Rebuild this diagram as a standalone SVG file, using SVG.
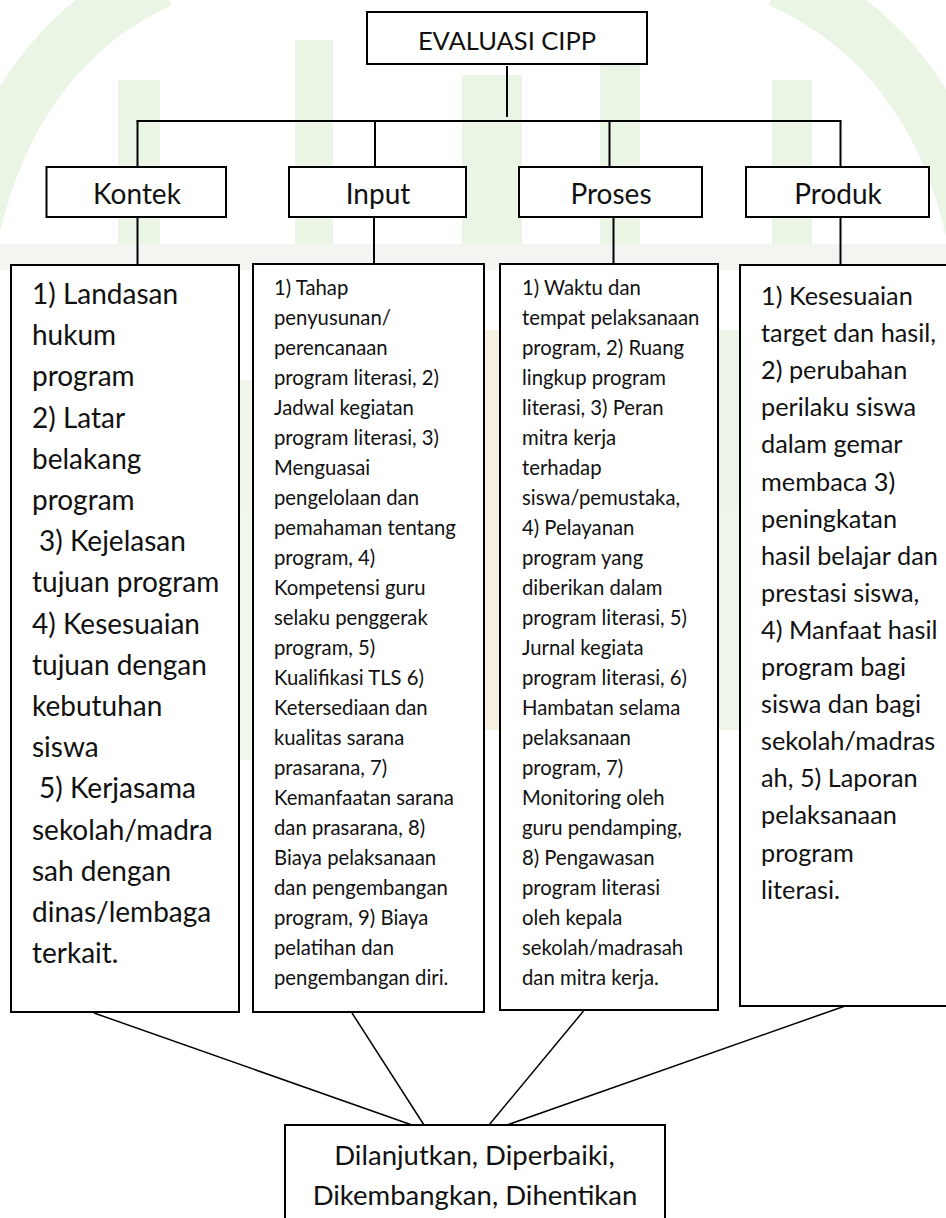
<svg xmlns="http://www.w3.org/2000/svg" width="946" height="1218" viewBox="0 0 946 1218">
<style>
  .box{fill:#fff;stroke:#000;stroke-width:2}
  .tree line{stroke:#000;stroke-width:2}
  .diag line{stroke:#000;stroke-width:1.5}
  text{font-family:Lato,"Liberation Sans",sans-serif;fill:#111}
  .h{font-size:28px;text-anchor:middle}
  .t{font-size:25.5px;text-anchor:middle}
  .b{font-size:27.5px;text-anchor:middle}
  .k{font-size:28px}
  .s{font-size:20.3px}
  .p{font-size:25.3px}
  .wm{fill:#e3f1dc}
</style>
<rect width="946" height="1218" fill="#fff"/>
<g id="watermark" opacity="0.7">
  <path d="M-30,240 Q10,50 160,-20" fill="none" stroke="#e3f1dc" stroke-width="55"/>
  <path d="M780,-20 Q935,50 975,240" fill="none" stroke="#e3f1dc" stroke-width="55"/>
  <rect class="wm" x="118" y="80" width="42" height="180"/>
  <rect class="wm" x="295" y="40" width="38" height="220"/>
  <rect class="wm" x="462" y="75" width="60" height="190"/>
  <rect class="wm" x="600" y="40" width="40" height="220"/>
  <rect class="wm" x="772" y="80" width="40" height="180"/>
  <rect x="0" y="244" width="946" height="26" fill="#eef2ec"/>
  <rect x="484" y="330" width="16" height="400" fill="#f5ecd6"/>
  <rect x="718" y="330" width="22" height="400" fill="#e6f2df"/>
  <rect x="239" y="380" width="14" height="380" fill="#eaf3e4"/>
</g>
<g id="connectors">
  <g class="tree">
    <line x1="507" y1="66" x2="507" y2="117"/>
    <line x1="136.5" y1="121" x2="841.5" y2="121"/>
    <line x1="137.5" y1="121" x2="137.5" y2="167"/>
    <line x1="375" y1="121" x2="375" y2="167"/>
    <line x1="609.5" y1="121" x2="609.5" y2="167"/>
    <line x1="840.5" y1="121" x2="840.5" y2="167"/>
    <line x1="137.5" y1="217" x2="137.5" y2="265"/>
    <line x1="374" y1="218" x2="374" y2="264"/>
    <line x1="613.5" y1="218" x2="613.5" y2="264"/>
    <line x1="840.5" y1="217" x2="840.5" y2="265"/>
  </g>
  <g class="diag">
    <line x1="94" y1="1013" x2="412" y2="1125"/>
    <line x1="352" y1="1013" x2="424" y2="1125"/>
    <line x1="583.5" y1="1011" x2="489" y2="1125"/>
    <line x1="845" y1="1006" x2="507" y2="1125"/>
  </g>
</g>
<g id="evaluasi">
  <rect class="box" x="367" y="12" width="280" height="52"/>
  <text class="t" x="507" y="50">EVALUASI CIPP</text>
</g>
<g id="kontek">
  <rect class="box" x="46.5" y="167" width="179.5" height="50"/>
  <text class="h" x="137" y="204">Kontek</text>
</g>
<g id="input">
  <rect class="box" x="289" y="167" width="177" height="50"/>
  <text class="h" x="378" y="204">Input</text>
</g>
<g id="proses">
  <rect class="box" x="519" y="167" width="183" height="50"/>
  <text class="h" x="611" y="204">Proses</text>
</g>
<g id="produk">
  <rect class="box" x="746" y="167" width="183" height="50"/>
  <text class="h" x="838" y="204">Produk</text>
</g>
<g id="kontek-detail">
  <rect class="box" x="11" y="265" width="228" height="747"/>
  <text class="k">
    <tspan x="32" y="304">1) Landasan</tspan>
    <tspan x="32" dy="41.2">hukum</tspan>
    <tspan x="32" dy="41.2">program</tspan>
    <tspan x="32" dy="41.2">2) Latar</tspan>
    <tspan x="32" dy="41.2">belakang</tspan>
    <tspan x="32" dy="41.2">program</tspan>
    <tspan x="39" dy="41.2">3) Kejelasan</tspan>
    <tspan x="32" dy="41.2">tujuan program</tspan>
    <tspan x="32" dy="41.2">4) Kesesuaian</tspan>
    <tspan x="32" dy="41.2">tujuan dengan</tspan>
    <tspan x="32" dy="41.2">kebutuhan</tspan>
    <tspan x="32" dy="41.2">siswa</tspan>
    <tspan x="39" dy="41.2">5) Kerjasama</tspan>
    <tspan x="32" dy="41.2">sekolah/madra</tspan>
    <tspan x="32" dy="41.2">sah dengan</tspan>
    <tspan x="32" dy="41.2">dinas/lembaga</tspan>
    <tspan x="32" dy="41.2">terkait.</tspan>
  </text>
</g>
<g id="input-detail">
  <rect class="box" x="253" y="264" width="231" height="748"/>
  <text class="s">
    <tspan x="274" y="295">1) Tahap</tspan>
    <tspan x="274" dy="30">penyusunan/</tspan>
    <tspan x="274" dy="30">perencanaan</tspan>
    <tspan x="274" dy="30">program literasi, 2)</tspan>
    <tspan x="274" dy="30">Jadwal kegiatan</tspan>
    <tspan x="274" dy="30">program literasi, 3)</tspan>
    <tspan x="274" dy="30">Menguasai</tspan>
    <tspan x="274" dy="30">pengelolaan dan</tspan>
    <tspan x="274" dy="30">pemahaman tentang</tspan>
    <tspan x="274" dy="30">program, 4)</tspan>
    <tspan x="274" dy="30">Kompetensi guru</tspan>
    <tspan x="274" dy="30">selaku penggerak</tspan>
    <tspan x="274" dy="30">program, 5)</tspan>
    <tspan x="274" dy="30">Kualifikasi TLS 6)</tspan>
    <tspan x="274" dy="30">Ketersediaan dan</tspan>
    <tspan x="274" dy="30">kualitas sarana</tspan>
    <tspan x="274" dy="30">prasarana, 7)</tspan>
    <tspan x="274" dy="30">Kemanfaatan sarana</tspan>
    <tspan x="274" dy="30">dan prasarana, 8)</tspan>
    <tspan x="274" dy="30">Biaya pelaksanaan</tspan>
    <tspan x="274" dy="30">dan pengembangan</tspan>
    <tspan x="274" dy="30">program, 9) Biaya</tspan>
    <tspan x="274" dy="30">pelatihan dan</tspan>
    <tspan x="274" dy="30">pengembangan diri.</tspan>
  </text>
</g>
<g id="proses-detail">
  <rect class="box" x="500" y="264" width="218" height="746"/>
  <text class="s">
    <tspan x="522" y="295">1) Waktu dan</tspan>
    <tspan x="522" dy="30">tempat pelaksanaan</tspan>
    <tspan x="522" dy="30">program, 2) Ruang</tspan>
    <tspan x="522" dy="30">lingkup program</tspan>
    <tspan x="522" dy="30">literasi, 3) Peran</tspan>
    <tspan x="522" dy="30">mitra kerja</tspan>
    <tspan x="522" dy="30">terhadap</tspan>
    <tspan x="522" dy="30">siswa/pemustaka,</tspan>
    <tspan x="522" dy="30">4) Pelayanan</tspan>
    <tspan x="522" dy="30">program yang</tspan>
    <tspan x="522" dy="30">diberikan dalam</tspan>
    <tspan x="522" dy="30">program literasi, 5)</tspan>
    <tspan x="522" dy="30">Jurnal kegiata</tspan>
    <tspan x="522" dy="30">program literasi, 6)</tspan>
    <tspan x="522" dy="30">Hambatan selama</tspan>
    <tspan x="522" dy="30">pelaksanaan</tspan>
    <tspan x="522" dy="30">program, 7)</tspan>
    <tspan x="522" dy="30">Monitoring oleh</tspan>
    <tspan x="522" dy="30">guru pendamping,</tspan>
    <tspan x="522" dy="30">8) Pengawasan</tspan>
    <tspan x="522" dy="30">program literasi</tspan>
    <tspan x="522" dy="30">oleh kepala</tspan>
    <tspan x="522" dy="30">sekolah/madrasah</tspan>
    <tspan x="522" dy="30">dan mitra kerja.</tspan>
  </text>
</g>
<g id="produk-detail">
  <rect class="box" x="740" y="265" width="215" height="741"/>
  <text class="p">
    <tspan x="761" y="305">1) Kesesuaian</tspan>
    <tspan x="761" dy="37.1">target dan hasil,</tspan>
    <tspan x="761" dy="37.1">2) perubahan</tspan>
    <tspan x="761" dy="37.1">perilaku siswa</tspan>
    <tspan x="761" dy="37.1">dalam gemar</tspan>
    <tspan x="761" dy="37.1">membaca 3)</tspan>
    <tspan x="761" dy="37.1">peningkatan</tspan>
    <tspan x="761" dy="37.1">hasil belajar dan</tspan>
    <tspan x="761" dy="37.1">prestasi siswa,</tspan>
    <tspan x="761" dy="37.1">4) Manfaat hasil</tspan>
    <tspan x="761" dy="37.1">program bagi</tspan>
    <tspan x="761" dy="37.1">siswa dan bagi</tspan>
    <tspan x="761" dy="37.1">sekolah/madras</tspan>
    <tspan x="761" dy="37.1">ah, 5) Laporan</tspan>
    <tspan x="761" dy="37.1">pelaksanaan</tspan>
    <tspan x="761" dy="37.1">program</tspan>
    <tspan x="761" dy="37.1">literasi.</tspan>
  </text>
</g>
<g id="keputusan">
  <rect class="box" x="285" y="1125" width="380" height="110"/>
  <text class="b">
    <tspan x="478" y="1165">Dilanjutkan, Diperbaiki,</tspan>
    <tspan x="475" y="1205">Dikembangkan, Dihentikan</tspan>
  </text>
</g>
</svg>
